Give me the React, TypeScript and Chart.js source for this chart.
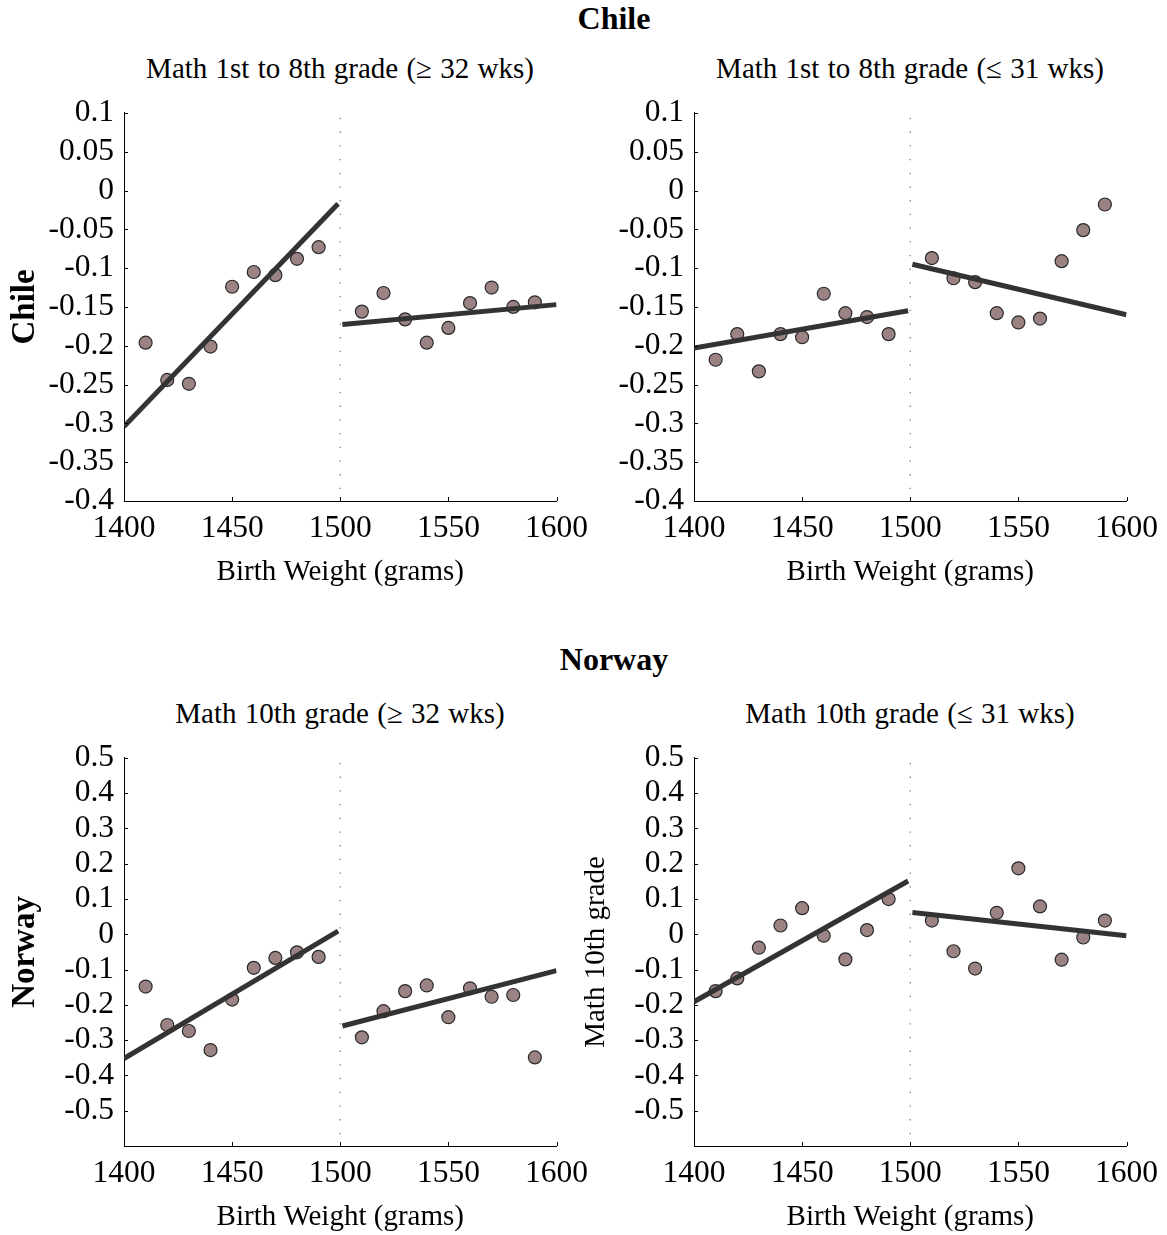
import React, { useEffect, useRef } from "react";
import { Chart, registerables } from "chart.js";
Chart.register(...registerables);

// ---- data ----
const binsLeft = [1410, 1420, 1430, 1440, 1450, 1460, 1470, 1480, 1490];
const binsRight = [1510, 1520, 1530, 1540, 1550, 1560, 1570, 1580, 1590];
const cutoff = 1500;
const fitXLeft = [1400, 1499];
const fitXRight = [1501, 1600];

const chileAboveLeft = [-0.196, -0.244, -0.249, -0.201, -0.124, -0.105, -0.109, -0.088, -0.073];
const chileAboveRight = [-0.156, -0.132, -0.166, -0.196, -0.177, -0.145, -0.125, -0.15, -0.144];
const chileAboveFitLeft = [-0.304, -0.017];
const chileAboveFitRight = [-0.1725, -0.147];

const chileBelowLeft = [-0.218, -0.185, -0.233, -0.185, -0.189, -0.133, -0.158, -0.163, -0.185];
const chileBelowRight = [-0.087, -0.113, -0.118, -0.158, -0.17, -0.165, -0.091, -0.051, -0.018];
const chileBelowFitLeft = [-0.203, -0.155];
const chileBelowFitRight = [-0.095, -0.16];

const norwayAboveLeft = [-0.148, -0.257, -0.274, -0.328, -0.185, -0.095, -0.067, -0.051, -0.064];
const norwayAboveRight = [-0.292, -0.218, -0.161, -0.145, -0.235, -0.153, -0.177, -0.172, -0.349];
const norwayAboveFitLeft = [-0.352, 0.009];
const norwayAboveFitRight = [-0.26, -0.103];

const norwayBelowLeft = [-0.161, -0.125, -0.038, 0.025, 0.074, -0.004, -0.071, 0.012, 0.1];
const norwayBelowRight = [0.039, -0.048, -0.097, 0.061, 0.187, 0.079, -0.072, -0.009, 0.039];
const norwayBelowFitLeft = [-0.191, 0.151];
const norwayBelowFitRight = [0.062, -0.004];

const xTickRange = [1400, 1600];
const xTickStep = 50;
const chileYRange = [-0.4, 0.1];
const chileYStep = 0.05;
const norwayYRange = [-0.6, 0.5];
const norwayYStep = 0.1;
const norwayHiddenTick = -0.6;

const xTitle = "Birth Weight (grams)";

// ---- styling ----
const SERIF = '"Liberation Serif", "Times New Roman", serif';
const markerFill = "#9b8383";
const markerEdge = "#2a2a2a";
const fitColor = "#333333";
const TICK_SIZE = 31.5;
const TEXT_SIZE = 29;

const inwardTicks = {
  id: "inwardTicks",
  afterDraw(chart: any) {
    const { ctx, chartArea } = chart;
    const xs = chart.scales.x;
    const ys = chart.scales.y;
    ctx.save();
    ctx.strokeStyle = "#000";
    ctx.lineWidth = 1;
    ctx.beginPath();
    xs.ticks.forEach((t: any) => {
      const px = Math.round(xs.getPixelForValue(t.value)) + 0.5;
      ctx.moveTo(px, chartArea.bottom);
      ctx.lineTo(px, chartArea.bottom - 4);
    });
    ys.ticks.forEach((t: any) => {
      if (t.label === "") return;
      const py = Math.round(ys.getPixelForValue(t.value)) + 0.5;
      ctx.moveTo(chartArea.left, py);
      ctx.lineTo(chartArea.left + 4, py);
    });
    ctx.stroke();
    ctx.restore();
  },
};

type PanelProps = {
  left: number;
  top: number;
  width: number;
  height: number;
  yAxisWidth: number;
  yRange: number[];
  yStep: number;
  hiddenTick?: number;
  yTitle?: string;
  yTitleBold?: boolean;
  yTitleSize?: number;
  yTitlePad?: number;
  ptsLeft: number[];
  ptsRight: number[];
  fitLeft: number[];
  fitRight: number[];
};

function fmt(v: number) {
  const r = Number(v.toFixed(2));
  return r === 0 ? "0" : String(r);
}

function Panel(p: PanelProps) {
  const ref = useRef<HTMLCanvasElement>(null);
  useEffect(() => {
    if (!ref.current) return;
    const pts = (xs: number[], ys: number[]) => xs.map((x, i) => ({ x, y: ys[i] }));
    const chart = new Chart(ref.current, {
      type: "scatter",
      data: {
        datasets: [
          {
            type: "line",
            data: pts(fitXLeft, p.fitLeft),
            borderColor: fitColor,
            borderWidth: 5,
            borderCapStyle: "butt",
            pointRadius: 0,
            fill: false,
            order: 0,
          } as any,
          {
            type: "line",
            data: pts(fitXRight, p.fitRight),
            borderColor: fitColor,
            borderWidth: 5,
            borderCapStyle: "butt",
            pointRadius: 0,
            fill: false,
            order: 0,
          } as any,
          {
            data: pts(binsLeft, p.ptsLeft),
            backgroundColor: markerFill,
            borderColor: markerEdge,
            borderWidth: 1.2,
            pointRadius: 6.5,
            order: 1,
          },
          {
            data: pts(binsRight, p.ptsRight),
            backgroundColor: markerFill,
            borderColor: markerEdge,
            borderWidth: 1.2,
            pointRadius: 6.5,
            order: 1,
          },
          {
            type: "line",
            data: [
              { x: cutoff, y: p.yRange[1] },
              { x: cutoff, y: p.yRange[0] },
            ],
            borderColor: "#707070",
            borderWidth: 1.2,
            borderDash: [1.3, 12.4],
            borderDashOffset: -5,
            pointRadius: 0,
            fill: false,
            order: 2,
          } as any,
        ],
      },
      options: {
        responsive: false,
        animation: false,
        devicePixelRatio: 1,
        layout: { padding: 0 },
        plugins: { legend: { display: false }, tooltip: { enabled: false }, title: { display: false } },
        scales: {
          x: {
            type: "linear",
            min: xTickRange[0],
            max: xTickRange[1],
            afterFit: (s: any) => {
              s.height = 89;
            },
            ticks: {
              stepSize: xTickStep,
              color: "#000",
              padding: 9,
              maxRotation: 0,
              autoSkip: false,
              font: { family: SERIF, size: TICK_SIZE },
              callback: (v: any) => String(v),
            },
            grid: { display: false, drawTicks: false },
            border: { display: true, color: "#000", width: 1 },
            title: {
              display: true,
              text: xTitle,
              color: "#000",
              font: { family: SERIF, size: TEXT_SIZE },
              padding: { top: 0, bottom: 0.6 },
            },
          },
          y: {
            type: "linear",
            min: p.yRange[0],
            max: p.yRange[1],
            afterFit: (s: any) => {
              s.width = p.yAxisWidth;
            },
            ticks: {
              stepSize: p.yStep,
              color: "#000",
              padding: 10,
              autoSkip: false,
              font: { family: SERIF, size: TICK_SIZE },
              callback: (v: any) =>
                p.hiddenTick !== undefined && Math.abs(v - p.hiddenTick) < 1e-6 ? "" : fmt(v),
            },
            grid: { display: false, drawTicks: false },
            border: { display: true, color: "#000", width: 1 },
            title: {
              display: !!p.yTitle,
              text: p.yTitle || "",
              color: "#000",
              font: { family: SERIF, size: p.yTitleSize || TEXT_SIZE, weight: p.yTitleBold ? "bold" : "normal" },
              padding: { top: p.yTitlePad || 0, bottom: 0 },
            },
          },
        },
      },
      plugins: [inwardTicks],
    } as any);
    return () => chart.destroy();
  }, []);
  return (
    <canvas
      ref={ref}
      width={p.width}
      height={p.height}
      style={{ position: "absolute", left: p.left, top: p.top, width: p.width, height: p.height }}
    />
  );
}

function Label(props: { text: string; cx: number; top: number; size: number; bold?: boolean }) {
  return (
    <div
      style={{
        position: "absolute",
        left: props.cx - 400,
        width: 800,
        top: props.top,
        textAlign: "center",
        fontFamily: SERIF,
        fontSize: props.size,
        lineHeight: props.size + "px",
        fontWeight: props.bold ? "bold" : "normal",
        wordSpacing: props.bold ? 0 : 1,
        color: "#000",
        whiteSpace: "nowrap",
      }}
    >
      {props.text}
    </div>
  );
}

const TOP_CANVAS = 83.8;
const BOTTOM_CANVAS = 728.8;
const CANVAS_H = 506.2;

export default function App() {
  return (
    <div style={{ position: "absolute", left: 0, top: 0, width: 1167, height: 1235, background: "#fff", overflow: "hidden" }}>
      <Label text="Chile" cx={614} top={1.5} size={32} bold />
      <Label text="Math 1st to 8th grade (≥ 32 wks)" cx={340} top={54} size={TEXT_SIZE} />
      <Label text="Math 1st to 8th grade (≤ 31 wks)" cx={910} top={54} size={TEXT_SIZE} />
      <Label text="Norway" cx={614} top={642.5} size={32} bold />
      <Label text="Math 10th grade (≥ 32 wks)" cx={340} top={699} size={TEXT_SIZE} />
      <Label text="Math 10th grade (≤ 31 wks)" cx={910} top={699} size={TEXT_SIZE} />

      <Panel
        left={0} top={TOP_CANVAS} width={597} height={CANVAS_H} yAxisWidth={124}
        yRange={chileYRange} yStep={chileYStep}
        yTitle="Chile" yTitleBold yTitleSize={33} yTitlePad={5.8}
        ptsLeft={chileAboveLeft} ptsRight={chileAboveRight}
        fitLeft={chileAboveFitLeft} fitRight={chileAboveFitRight}
      />
      <Panel
        left={575} top={TOP_CANVAS} width={592} height={CANVAS_H} yAxisWidth={119}
        yRange={chileYRange} yStep={chileYStep}
        ptsLeft={chileBelowLeft} ptsRight={chileBelowRight}
        fitLeft={chileBelowFitLeft} fitRight={chileBelowFitRight}
      />
      <Panel
        left={0} top={BOTTOM_CANVAS} width={597} height={CANVAS_H} yAxisWidth={124}
        yRange={norwayYRange} yStep={norwayYStep} hiddenTick={norwayHiddenTick}
        yTitle="Norway" yTitleBold yTitleSize={33} yTitlePad={5.8}
        ptsLeft={norwayAboveLeft} ptsRight={norwayAboveRight}
        fitLeft={norwayAboveFitLeft} fitRight={norwayAboveFitRight}
      />
      <Panel
        left={575} top={BOTTOM_CANVAS} width={592} height={CANVAS_H} yAxisWidth={119}
        yRange={norwayYRange} yStep={norwayYStep} hiddenTick={norwayHiddenTick}
        yTitle="Math 10th grade" yTitleSize={TEXT_SIZE} yTitlePad={3.6}
        ptsLeft={norwayBelowLeft} ptsRight={norwayBelowRight}
        fitLeft={norwayBelowFitLeft} fitRight={norwayBelowFitRight}
      />
    </div>
  );
}
